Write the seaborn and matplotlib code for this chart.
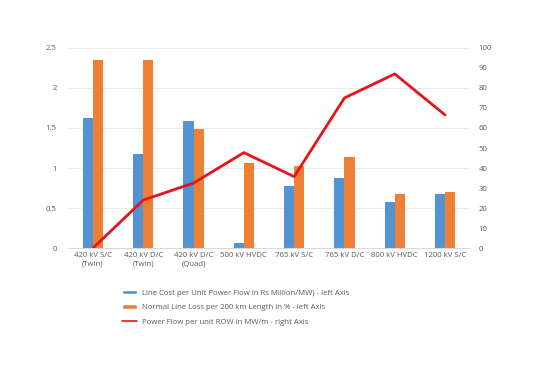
import numpy as np
import pandas as pd
import matplotlib
matplotlib.use("Agg")
import matplotlib.pyplot as plt
import seaborn as sns
from matplotlib.patches import Patch
from matplotlib.lines import Line2D

categories = ["420 kV S/C\n(Twin)", "420 kV D/C\n(Twin)", "420 kV D/C\n(Quad)", "500 kV HVDC",
              "765 kV S/C", "765 kV D/C", "800 kV HVDC", "1200 kV S/C"]
line_cost = [1.63, 1.17, 1.59, 0.06, 0.77, 0.87, 0.57, 0.67]
line_loss = [2.35, 2.35, 1.49, 1.06, 1.02, 1.14, 0.67, 0.70]
power_flow = [0, 24, 32.5, 47.7, 35.7, 75, 87, 66.5]
series_names = ["Line Cost per Unit Power Flow in Rs Million/MW) - left Axis",
                "Normal Line Loss per 200 km Length in % - left Axis",
                "Power Flow per unit ROW in MW/m - right Axis"]
left_ticks = [0, 0.5, 1, 1.5, 2, 2.5]
left_tick_labels = ["0", "0.5", "1", "1.5", "2", "2.5"]
right_ticks = list(range(0, 101, 10))

sns.set_theme(style="white")
plt.rcParams['font.family'] = ['Open Sans', 'DejaVu Sans']

blue = "#5294D2"
orange = "#EE7F35"
red = "#E8121A"
gray = "#595959"

df = pd.DataFrame({
    "cat": categories * 2,
    "val": line_cost + line_loss,
    "series": [series_names[0]] * len(categories) + [series_names[1]] * len(categories),
})

fig = plt.figure(figsize=(5.38, 3.80), dpi=100)
ax = fig.add_axes([0.126, 0.347, 0.748, 0.527])
sns.barplot(data=df, x="cat", y="val", hue="series", palette=[blue, orange],
            width=0.40, ax=ax, legend=False, saturation=1, linewidth=0)
ax.set_xlim(-0.5, len(categories) - 0.5)
ax.set_ylim(0, 2.5)
ax.set_yticks(left_ticks)
ax.set_yticklabels(left_tick_labels)
ax.set_xlabel("")
ax.set_ylabel("")
ax.grid(axis="y", color="#ebebeb", lw=0.8)
ax.set_axisbelow(True)
for s in ["top", "right", "left"]:
    ax.spines[s].set_visible(False)
ax.spines["bottom"].set_color("#d9d9d9")
ax.spines["bottom"].set_linewidth(0.8)
ax.tick_params(axis="y", length=0, labelsize=5.6, labelcolor=gray, pad=8)
ax.tick_params(axis="x", length=0, labelsize=5.6, labelcolor=gray, pad=3)

ax2 = ax.twinx()
sns.lineplot(x=np.arange(len(categories)), y=power_flow, ax=ax2, color=red, lw=2)
ax2.set_ylim(0, 100)
ax2.set_yticks(right_ticks)
ax2.tick_params(axis="y", length=0, labelsize=5.6, labelcolor=gray, pad=6)
for s in ["top", "right", "left", "bottom"]:
    ax2.spines[s].set_visible(False)
ax2.grid(False)

handles = [Patch(facecolor=blue), Patch(facecolor=orange), Line2D([], [], color=red, lw=1.2)]
fig.legend(handles, series_names, loc="upper left", bbox_to_anchor=(0.226, 0.238),
           frameon=False, fontsize=5.6, labelcolor=gray, handlelength=2.0,
           handleheight=0.6, labelspacing=0.95, borderpad=0, borderaxespad=0,
           handletextpad=0.6)

fig.savefig("out.png", dpi=100)
